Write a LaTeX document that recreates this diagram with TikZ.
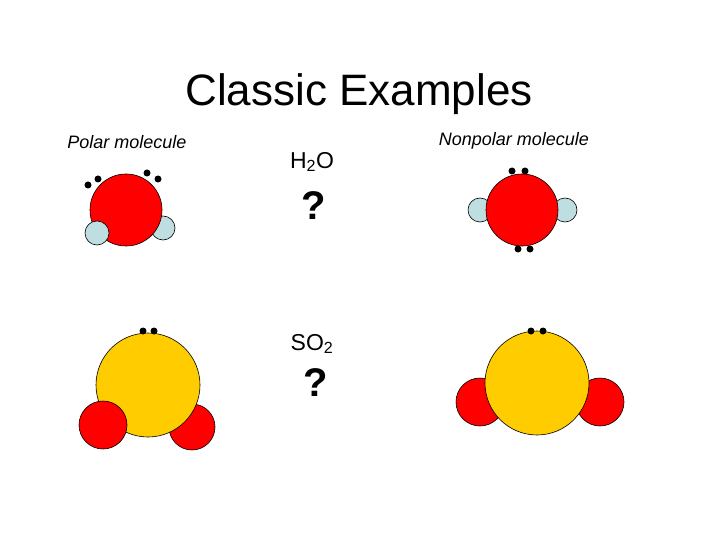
\documentclass[tikz,border=0pt]{standalone}
\usepackage{fontspec}
\setmainfont{Liberation Sans}
\begin{document}
\begin{tikzpicture}[x=1pt,y=-1pt,
  atom/.style={draw=black,line width=0.6pt},
  ox/.style={atom,fill=red},
  hy/.style={atom,fill={rgb,255:red,190;green,222;blue,226}},
  su/.style={atom,fill={rgb,255:red,255;green,204;blue,0}},
  dot/.style={fill=black,circle,inner sep=0pt,minimum size=7pt}]
\useasboundingbox (0,0) rectangle (720,540);
\node (title) at (359,94) {\fontsize{44}{48}\selectfont Classic Examples};
\node (polar) at (127,142) {\fontsize{18}{20}\selectfont\itshape Polar molecule};
\node (nonpolar) at (514,141) {\fontsize{18}{20}\selectfont\itshape Nonpolar molecule};
\node (h2o) at (312,162) {\fontsize{23}{26}\selectfont H\textsubscript{2}O};
\node (q1) at (314,206) {\fontsize{40}{42}\selectfont\bfseries ?};
\node (so2) at (312,344) {\fontsize{23}{26}\selectfont SO\textsubscript{2}};
\node (q2) at (316,383) {\fontsize{40}{42}\selectfont\bfseries ?};
% polar H2O
\draw[hy] (163,228) circle (12);
\draw[ox] (126,210) circle (36);
\draw[hy] (97,233) circle (12);
\node[dot] (d1) at (88,185) {}; \node[dot] (d2) at (98,179) {};
\node[dot] (d3) at (147,173) {}; \node[dot] (d4) at (158,179) {};
% nonpolar
\draw[hy] (480,210) circle (12);
\draw[hy] (565,210) circle (12);
\draw[ox] (522,210) circle (36);
\node[dot] (d5) at (512,171) {}; \node[dot] (d6) at (525,171) {};
\node[dot] (d7) at (518,249) {}; \node[dot] (d8) at (530,249) {};
% SO2 polar
\draw[ox] (192,427) circle (23);
\draw[su] (148,385) circle (52);
\draw[ox] (103,425) circle (24);
\node[dot] (d9) at (143,331) {}; \node[dot] (d10) at (154,331) {};
% SO2 nonpolar
\draw[ox] (480,402) circle (24);
\draw[ox] (600,402) circle (24);
\draw[su] (537,383) circle (52);
\node[dot] (d11) at (531,331) {}; \node[dot] (d12) at (543,331) {};
\end{tikzpicture}
\end{document}
